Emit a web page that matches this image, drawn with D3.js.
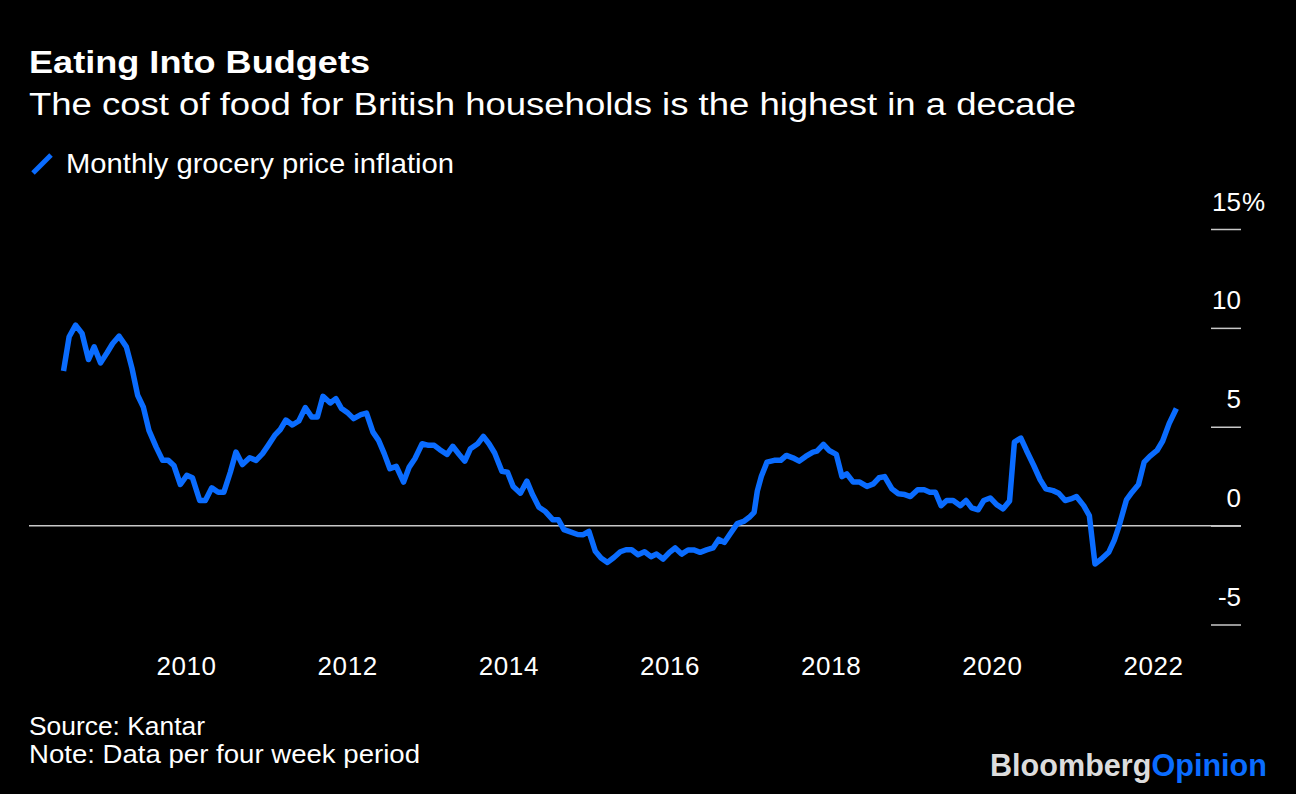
<!DOCTYPE html>
<html>
<head>
<meta charset="utf-8">
<script src="https://cdn.jsdelivr.net/npm/d3@7"></script>
<style>
  html, body { margin: 0; padding: 0; background: #000; }
  svg { display: block; }
  text { font-family: "Liberation Sans", Arial, Helvetica, sans-serif; }
</style>
</head>
<body>
<svg id="chart" width="1296" height="794"></svg>
<script>
// ---- Data ----
const title = "Eating Into Budgets";
const subtitle = "The cost of food for British households is the highest in a decade";
const seriesName = "Monthly grocery price inflation";
const sourceText = "Source: Kantar";
const noteText = "Note: Data per four week period";

// Period end dates as decimal years (four-week periods)
const periods = [2008.48, 2008.55, 2008.63, 2008.71, 2008.79, 2008.86, 2008.94, 2009.02, 2009.09, 2009.17,
  2009.26, 2009.33, 2009.40, 2009.47, 2009.54, 2009.63, 2009.71, 2009.78, 2009.85, 2009.93,
  2010.01, 2010.08, 2010.17, 2010.24, 2010.32, 2010.40, 2010.47, 2010.55, 2010.62, 2010.70,
  2010.79, 2010.87, 2010.95, 2011.02, 2011.10, 2011.17, 2011.24, 2011.32, 2011.40, 2011.48,
  2011.56, 2011.63, 2011.70, 2011.79, 2011.86, 2011.93, 2012.01, 2012.08, 2012.17, 2012.24,
  2012.32, 2012.39, 2012.46, 2012.53, 2012.61, 2012.70, 2012.77, 2012.84, 2012.93, 2013.01,
  2013.08, 2013.15, 2013.24, 2013.31, 2013.39, 2013.46, 2013.53, 2013.62, 2013.69, 2013.76,
  2013.83, 2013.92, 2013.99, 2014.06, 2014.15, 2014.23, 2014.30, 2014.38, 2014.46, 2014.55,
  2014.62, 2014.69, 2014.77, 2014.86, 2014.93, 2015.00, 2015.08, 2015.15, 2015.23, 2015.31,
  2015.39, 2015.46, 2015.53, 2015.61, 2015.69, 2015.77, 2015.84, 2015.92, 2016.00, 2016.07,
  2016.15, 2016.23, 2016.30, 2016.38, 2016.46, 2016.54, 2016.61, 2016.68, 2016.76, 2016.84,
  2016.92, 2016.99, 2017.05, 2017.09, 2017.14, 2017.21, 2017.30, 2017.38, 2017.45, 2017.53,
  2017.61, 2017.69, 2017.78, 2017.83, 2017.91, 2017.98, 2018.07, 2018.14, 2018.20, 2018.28,
  2018.36, 2018.45, 2018.53, 2018.60, 2018.67, 2018.76, 2018.84, 2018.92, 2018.99, 2019.08,
  2019.16, 2019.23, 2019.30, 2019.37, 2019.44, 2019.52, 2019.61, 2019.68, 2019.75, 2019.83,
  2019.90, 2019.98, 2020.06, 2020.14, 2020.22, 2020.28, 2020.36, 2020.43, 2020.52, 2020.60,
  2020.67, 2020.76, 2020.83, 2020.91, 2020.98, 2021.05, 2021.14, 2021.21, 2021.28, 2021.36,
  2021.45, 2021.52, 2021.58, 2021.67, 2021.74, 2021.82, 2021.89, 2021.96, 2022.05, 2022.12,
  2022.20, 2022.29];

// Grocery price inflation, %
const inflation = [7.82, 9.55, 10.14, 9.72, 8.40, 9.04, 8.23, 8.74, 9.21, 9.58,
  9.04, 7.95, 6.59, 6.00, 4.82, 3.97, 3.30, 3.30, 3.04, 2.08,
  2.54, 2.42, 1.27, 1.27, 1.91, 1.69, 1.69, 2.70, 3.72, 3.09,
  3.43, 3.30, 3.64, 4.06, 4.56, 4.86, 5.34, 5.09, 5.29, 5.97,
  5.49, 5.49, 6.54, 6.20, 6.42, 5.92, 5.69, 5.41, 5.61, 5.69,
  4.73, 4.31, 3.64, 2.88, 3.00, 2.20, 2.96, 3.38, 4.14, 4.06,
  4.06, 3.84, 3.60, 4.01, 3.60, 3.26, 3.89, 4.14, 4.51, 4.14,
  3.67, 2.75, 2.70, 1.98, 1.64, 2.25, 1.57, 0.93, 0.71, 0.30,
  0.30, -0.20, -0.32, -0.45, -0.46, -0.29, -1.30, -1.64, -1.86, -1.61,
  -1.32, -1.22, -1.22, -1.47, -1.32, -1.57, -1.44, -1.69, -1.35, -1.13,
  -1.44, -1.23, -1.23, -1.35, -1.23, -1.13, -0.70, -0.85, -0.37, 0.10,
  0.21, 0.42, 0.67, 1.75, 2.50, 3.21, 3.30, 3.30, 3.55, 3.43,
  3.26, 3.50, 3.72, 3.77, 4.11, 3.80, 3.60, 2.48, 2.62, 2.20,
  2.20, 1.98, 2.11, 2.42, 2.48, 1.86, 1.61, 1.57, 1.47, 1.81,
  1.81, 1.69, 1.69, 1.01, 1.27, 1.27, 1.01, 1.27, 0.90, 0.80,
  1.27, 1.40, 1.06, 0.85, 1.25, 4.22, 4.43, 3.80, 3.04, 2.32,
  1.86, 1.77, 1.64, 1.27, 1.35, 1.47, 1.01, 0.51, -1.94, -1.69,
  -1.35, -0.73, 0.00, 1.30, 1.69, 2.08, 3.21, 3.50, 3.80, 4.28,
  5.16, 5.92];

const xTicks = [2010, 2012, 2014, 2016, 2018, 2020, 2022];
const yTicks = [-5, 0, 5, 10, 15];

// ---- Drawing ----
const svg = d3.select("#chart");
const W = 1296, H = 794;
svg.append("rect").attr("width", W).attr("height", H).attr("fill", "#000");

const blue = "#0a6cff";

const x = d3.scaleLinear().domain([2010, 2022]).range([186, 1153]);
const y = d3.scaleLinear().domain([-5, 15]).range([624.5, 229]);

// Titles
svg.append("text").attr("x", 29).attr("y", 73)
  .attr("fill", "#fff").attr("font-size", 32).attr("font-weight", "bold")
  .attr("textLength", 341).attr("lengthAdjust", "spacingAndGlyphs")
  .text(title);
svg.append("text").attr("x", 29).attr("y", 115)
  .attr("fill", "#fff").attr("font-size", 31)
  .attr("textLength", 1047).attr("lengthAdjust", "spacingAndGlyphs")
  .text(subtitle);

// Legend
svg.append("line").attr("x1", 33).attr("y1", 173).attr("x2", 51).attr("y2", 155)
  .attr("stroke", blue).attr("stroke-width", 5).attr("stroke-linecap", "butt");
svg.append("text").attr("x", 66).attr("y", 173)
  .attr("fill", "#fff").attr("font-size", 28)
  .attr("textLength", 388).attr("lengthAdjust", "spacingAndGlyphs")
  .text(seriesName);

// Zero line
svg.append("line")
  .attr("x1", 29).attr("x2", 1241)
  .attr("y1", y(0)).attr("y2", y(0))
  .attr("stroke", "#c8c8c8").attr("stroke-width", 1.5);

// Y axis (right side, labels above ticks)
const yAxis = d3.axisRight(y).tickValues(yTicks).tickSize(30).tickFormat(d => d);
const gy = svg.append("g").attr("transform", "translate(1211,0)").call(yAxis);
gy.select(".domain").remove();
gy.selectAll(".tick line").attr("stroke", "#c8c8c8").attr("stroke-width", 1.5);
gy.selectAll(".tick text")
  .attr("x", 30).attr("dy", -19).attr("text-anchor", "end")
  .attr("fill", "#fff").attr("font-size", 26)
  .attr("font-family", "'Liberation Sans', Arial, sans-serif");
gy.selectAll(".tick").filter(d => d === 15).append("text")
  .attr("x", 31).attr("y", -19).attr("fill", "#fff").attr("font-size", 26)
  .attr("font-family", "'Liberation Sans', Arial, sans-serif")
  .text("%");

// X axis
const xAxis = d3.axisBottom(x).tickValues(xTicks).tickSize(0).tickFormat(d3.format("d"));
const gx = svg.append("g").attr("transform", "translate(0,675)").call(xAxis);
gx.select(".domain").remove();
gx.selectAll(".tick text")
  .attr("y", 0).attr("dy", 0)
  .attr("fill", "#fff").attr("font-size", 26)
  .attr("font-family", "'Liberation Sans', Arial, sans-serif")
  .attr("letter-spacing", 0.6);

// Line
const data = periods.map((p, i) => ({ t: p, v: inflation[i] }));
const line = d3.line().x(d => x(d.t)).y(d => y(d.v));
svg.append("path").datum(data)
  .attr("d", line)
  .attr("fill", "none")
  .attr("stroke", blue)
  .attr("stroke-width", 5.5)
  .attr("stroke-linejoin", "round")
  .attr("stroke-linecap", "butt");

// Footer
svg.append("text").attr("x", 29).attr("y", 735)
  .attr("fill", "#fff").attr("font-size", 26)
  .attr("textLength", 176).attr("lengthAdjust", "spacingAndGlyphs")
  .text(sourceText);
svg.append("text").attr("x", 29).attr("y", 763)
  .attr("fill", "#fff").attr("font-size", 26)
  .attr("textLength", 391).attr("lengthAdjust", "spacingAndGlyphs")
  .text(noteText);

// Logo
const logo = svg.append("text").attr("x", 990).attr("y", 776)
  .attr("font-size", 31).attr("font-weight", "bold")
  .attr("textLength", 277).attr("lengthAdjust", "spacingAndGlyphs");
logo.append("tspan").attr("fill", "#dcdcdc").text("Bloomberg");
logo.append("tspan").attr("fill", blue).text("Opinion");
</script>
</body>
</html>
